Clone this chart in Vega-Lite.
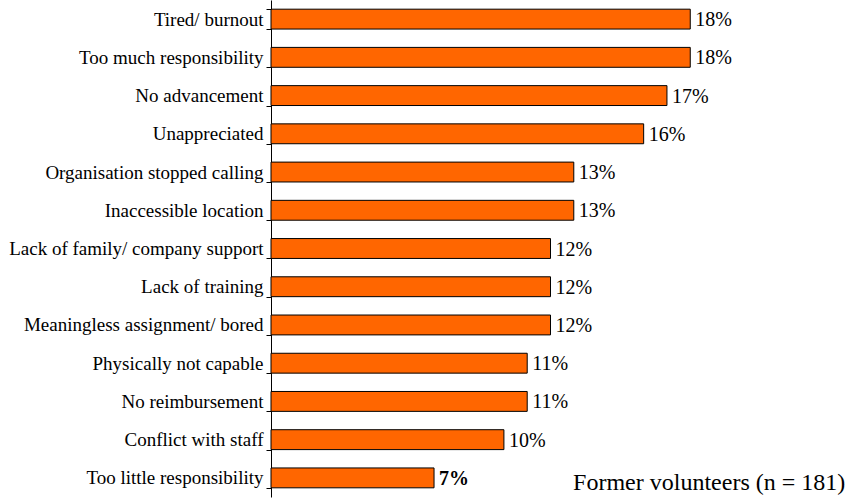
{
  "$schema": "https://vega.github.io/schema/vega-lite/v6.json",
  "width": 559,
  "height": 497,
  "autosize": {"type": "none"},
  "padding": {"left": 271, "top": 0, "right": 18, "bottom": 1},
  "background": "white",
  "config": {
    "view": {"stroke": null},
    "font": "'Liberation Serif', 'Times New Roman', Times, 'DejaVu Serif', serif"
  },
  "data": {
    "values": [
      {"reason": "Tired/ burnout", "pct": 18, "label": "18%"},
      {"reason": "Too much responsibility", "pct": 18, "label": "18%"},
      {"reason": "No advancement", "pct": 17, "label": "17%"},
      {"reason": "Unappreciated", "pct": 16, "label": "16%"},
      {"reason": "Organisation stopped calling", "pct": 13, "label": "13%"},
      {"reason": "Inaccessible location", "pct": 13, "label": "13%"},
      {"reason": "Lack of family/ company support", "pct": 12, "label": "12%"},
      {"reason": "Lack of training", "pct": 12, "label": "12%"},
      {"reason": "Meaningless assignment/ bored", "pct": 12, "label": "12%"},
      {"reason": "Physically not capable", "pct": 11, "label": "11%"},
      {"reason": "No reimbursement", "pct": 11, "label": "11%"},
      {"reason": "Conflict with staff", "pct": 10, "label": "10%"},
      {"reason": "Too little responsibility", "pct": 7, "label": "7%"}
    ]
  },
  "encoding": {
    "y": {
      "field": "reason",
      "type": "nominal",
      "sort": null,
      "scale": {"paddingInner": 0.48, "paddingOuter": 0.24},
      "axis": {
        "title": null,
        "domainColor": "black",
        "domainWidth": 1,
        "tickColor": "black",
        "tickSize": 5,
        "tickBand": "extent",
        "labelColor": "black",
        "labelFont": "'Liberation Serif', 'Times New Roman', Times, 'DejaVu Serif', serif",
        "labelFontSize": 19,
        "labelPadding": 3,
        "labelLimit": 400
      }
    },
    "x": {
      "field": "pct",
      "type": "quantitative",
      "scale": {"domain": [0, 24], "nice": false},
      "axis": null
    }
  },
  "layer": [
    {
      "mark": {"type": "bar", "fill": "#FF6600", "stroke": "black", "strokeWidth": 1}
    },
    {
      "transform": [{"filter": "datum.reason != 'Too little responsibility'"}],
      "mark": {"type": "text", "align": "left", "baseline": "middle", "dx": 5, "dy": 1, "fontSize": 20, "color": "black"},
      "encoding": {"text": {"field": "label"}}
    },
    {
      "transform": [{"filter": "datum.reason == 'Too little responsibility'"}],
      "mark": {"type": "text", "align": "left", "baseline": "middle", "dx": 5, "dy": 1, "fontSize": 20, "fontWeight": "bold", "color": "black"},
      "encoding": {"text": {"field": "label"}}
    },
    {
      "transform": [{"filter": "datum.reason == 'Too little responsibility'"}],
      "mark": {"type": "text", "align": "left", "baseline": "alphabetic", "dy": 12, "fontSize": 24, "color": "black"},
      "encoding": {
        "x": {"datum": 12.97, "type": "quantitative"},
        "y": {"datum": "Too little responsibility", "type": "nominal"},
        "text": {"value": "Former volunteers (n = 181)"}
      }
    }
  ]
}
